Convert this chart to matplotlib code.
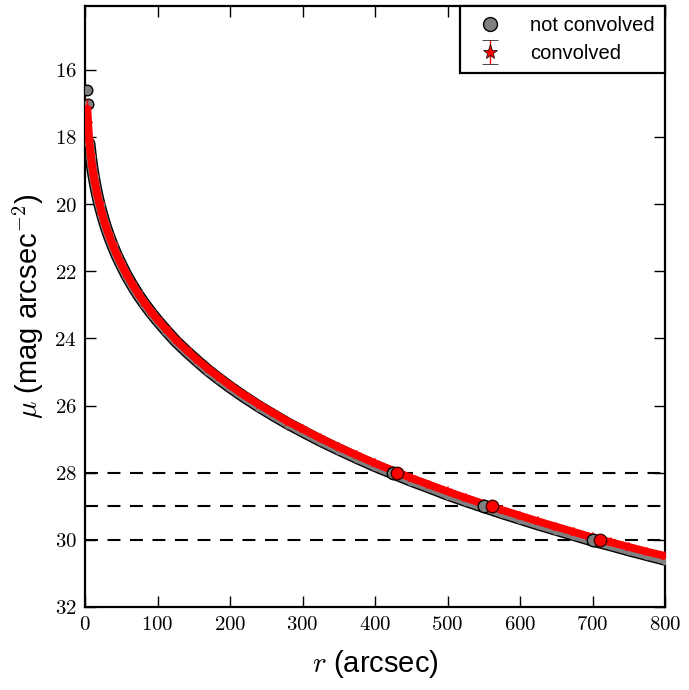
import numpy as np
import matplotlib
matplotlib.use('Agg')
import matplotlib.pyplot as plt
from matplotlib.ticker import FuncFormatter
from matplotlib.legend_handler import HandlerErrorbar, HandlerLine2D

plt.rcParams['font.family'] = ['Liberation Sans', 'DejaVu Sans']
plt.rcParams['mathtext.fontset'] = 'cm'

# not convolved profile (radius in arcsec, surface brightness in mag/arcsec^2)
r_nc = [2.3, 4.1, 6, 8, 10, 12, 14, 17, 20, 24, 28, 33, 38, 44, 50, 57, 65, 73,
        82, 91, 100, 112, 125, 140, 155, 170, 185, 200, 220, 240, 260, 280, 300,
        325, 350, 375, 400, 425, 450, 475, 500, 525, 550, 575, 600, 625, 650,
        675, 700, 725, 750, 775, 800]
mu_nc = [16.61, 17.03, 18.20, 18.59, 18.91, 19.18, 19.42, 19.74, 20.02, 20.34,
         20.63, 20.95, 21.23, 21.54, 21.81, 22.11, 22.41, 22.69, 22.97, 23.23,
         23.47, 23.77, 24.08, 24.39, 24.68, 24.96, 25.21, 25.45, 25.75, 26.03,
         26.29, 26.54, 26.77, 27.05, 27.31, 27.56, 27.80, 28.02, 28.24, 28.44,
         28.65, 28.84, 29.02, 29.20, 29.37, 29.54, 29.70, 29.86, 30.02, 30.16,
         30.31, 30.45, 30.59]

# convolved profile
r_c = [3.2, 4.5, 6, 8, 10, 12, 14, 17, 20, 24, 28, 33, 38, 44, 50, 57, 65, 73,
       82, 91, 100, 112, 125, 140, 155, 170, 185, 200, 220, 240, 260, 280, 300,
       325, 350, 375, 400, 425, 450, 475, 500, 525, 550, 575, 600, 625, 650,
       675, 700, 725, 750, 775, 800]
mu_c = [17.16, 17.62, 18.15, 18.56, 18.89, 19.16, 19.40, 19.72, 20.00, 20.32,
        20.61, 20.93, 21.21, 21.52, 21.79, 22.08, 22.38, 22.66, 22.94, 23.20,
        23.44, 23.73, 24.04, 24.35, 24.64, 24.91, 25.16, 25.40, 25.70, 25.97,
        26.23, 26.48, 26.70, 26.98, 27.24, 27.48, 27.72, 27.94, 28.16, 28.36,
        28.56, 28.75, 28.93, 29.11, 29.28, 29.45, 29.61, 29.77, 29.93, 30.07,
        30.21, 30.35, 30.48]
err_c = [0.25, 0.20, 0.15, 0.12, 0.10, 0.08, 0.07, 0.06, 0.05, 0.05,
         0.04, 0.04, 0.04, 0.03, 0.03, 0.03, 0.03, 0.03, 0.03, 0.03,
         0.03, 0.03, 0.03, 0.03, 0.03, 0.03, 0.03, 0.03, 0.03, 0.03,
         0.03, 0.03, 0.03, 0.03, 0.03, 0.03, 0.03, 0.03, 0.03, 0.03,
         0.03, 0.03, 0.03, 0.03, 0.03, 0.03, 0.03, 0.03, 0.03, 0.03,
         0.03, 0.03, 0.03]

# limiting surface brightness levels and radii where they are reached
levels = [28, 29, 30]
r_lim_nc = [425, 551, 700]
r_lim_c = [431, 561, 710]

fig = plt.figure(figsize=(6.89, 6.90), dpi=100)
ax = fig.add_axes([0.1234, 0.1203, 0.8418, 0.871])

for lev in levels:
    ax.axhline(lev, color='k', lw=1.5, ls=(0, (6.2, 4.6)), zorder=1)

# bands joining the sampled points
ax.plot(r_nc[2:], mu_nc[2:], color='k', lw=8.8, solid_capstyle='round', zorder=2)
ax.plot(r_nc[2:], mu_nc[2:], color='grey', lw=6.8, solid_capstyle='round', zorder=2)
ax.plot(r_nc[:2], mu_nc[:2], 'o', ms=7.6, mfc='grey', mec='k', mew=1, zorder=3)
h1, = ax.plot(r_nc[2:], mu_nc[2:], 'o', ms=6.8, mfc='grey', mec='grey', mew=0,
              label='not convolved', zorder=3)
ax.plot(r_c, mu_c, color='red', lw=5.6, solid_capstyle='round', zorder=4)
h2 = ax.errorbar(r_c, mu_c, yerr=err_c, fmt='*', ms=7, mfc='red', mec='red',
                 mew=0.3, ecolor='red', elinewidth=1, capsize=2.5,
                 label='convolved', zorder=5)

ax.plot(r_lim_nc, levels, 'o', ms=9, mfc='grey', mec='k', mew=1, zorder=6)
ax.plot(r_lim_c, levels, 'o', ms=9, mfc='red', mec='#400000', mew=1, zorder=7)

ax.set_xlim(0, 800)
ax.set_ylim(32, 14.1)
ax.set_xticks(np.arange(0, 801, 100))
ax.set_yticks(np.arange(16, 33, 2))
fmt = FuncFormatter(lambda v, p: '$%d$' % v)
ax.xaxis.set_major_formatter(fmt)
ax.yaxis.set_major_formatter(fmt)
ax.tick_params(direction='in', length=8, width=1, labelsize=15, top=True,
               right=True, pad=6)
for s in ax.spines.values():
    s.set_linewidth(1.6)

ax.set_xlabel('$r$ (arcsec)', fontsize=21, labelpad=10)
ax.set_ylabel(r'$\mu$ (mag arcsec$^{\mathsf{-2}}$)', fontsize=21, labelpad=6)


def big_circle(leg_h, orig_h):
    leg_h.update_from(orig_h)
    leg_h.set_markersize(10)
    leg_h.set_markeredgecolor('k')
    leg_h.set_markeredgewidth(1)


def big_star(leg_h, orig_h):
    leg_h.update_from(orig_h)
    if hasattr(leg_h, 'set_markersize'):
        leg_h.set_markersize(11)
        leg_h.set_markeredgecolor('k')
        leg_h.set_markeredgewidth(0.5)


leg = ax.legend(handles=[h1, h2], loc='upper right', fontsize=14.5, numpoints=1,
                borderaxespad=0, fancybox=False, framealpha=1, edgecolor='k',
                handletextpad=1.0, borderpad=0.5, labelspacing=0.45,
                handlelength=2.0,
                handler_map={h1: HandlerLine2D(update_func=big_circle),
                             type(h2): HandlerErrorbar(update_func=big_star,
                                                       xerr_size=0.5,
                                                       yerr_size=0.6)})
leg.get_frame().set_linewidth(1.6)

fig.savefig('out.png', dpi=100)
